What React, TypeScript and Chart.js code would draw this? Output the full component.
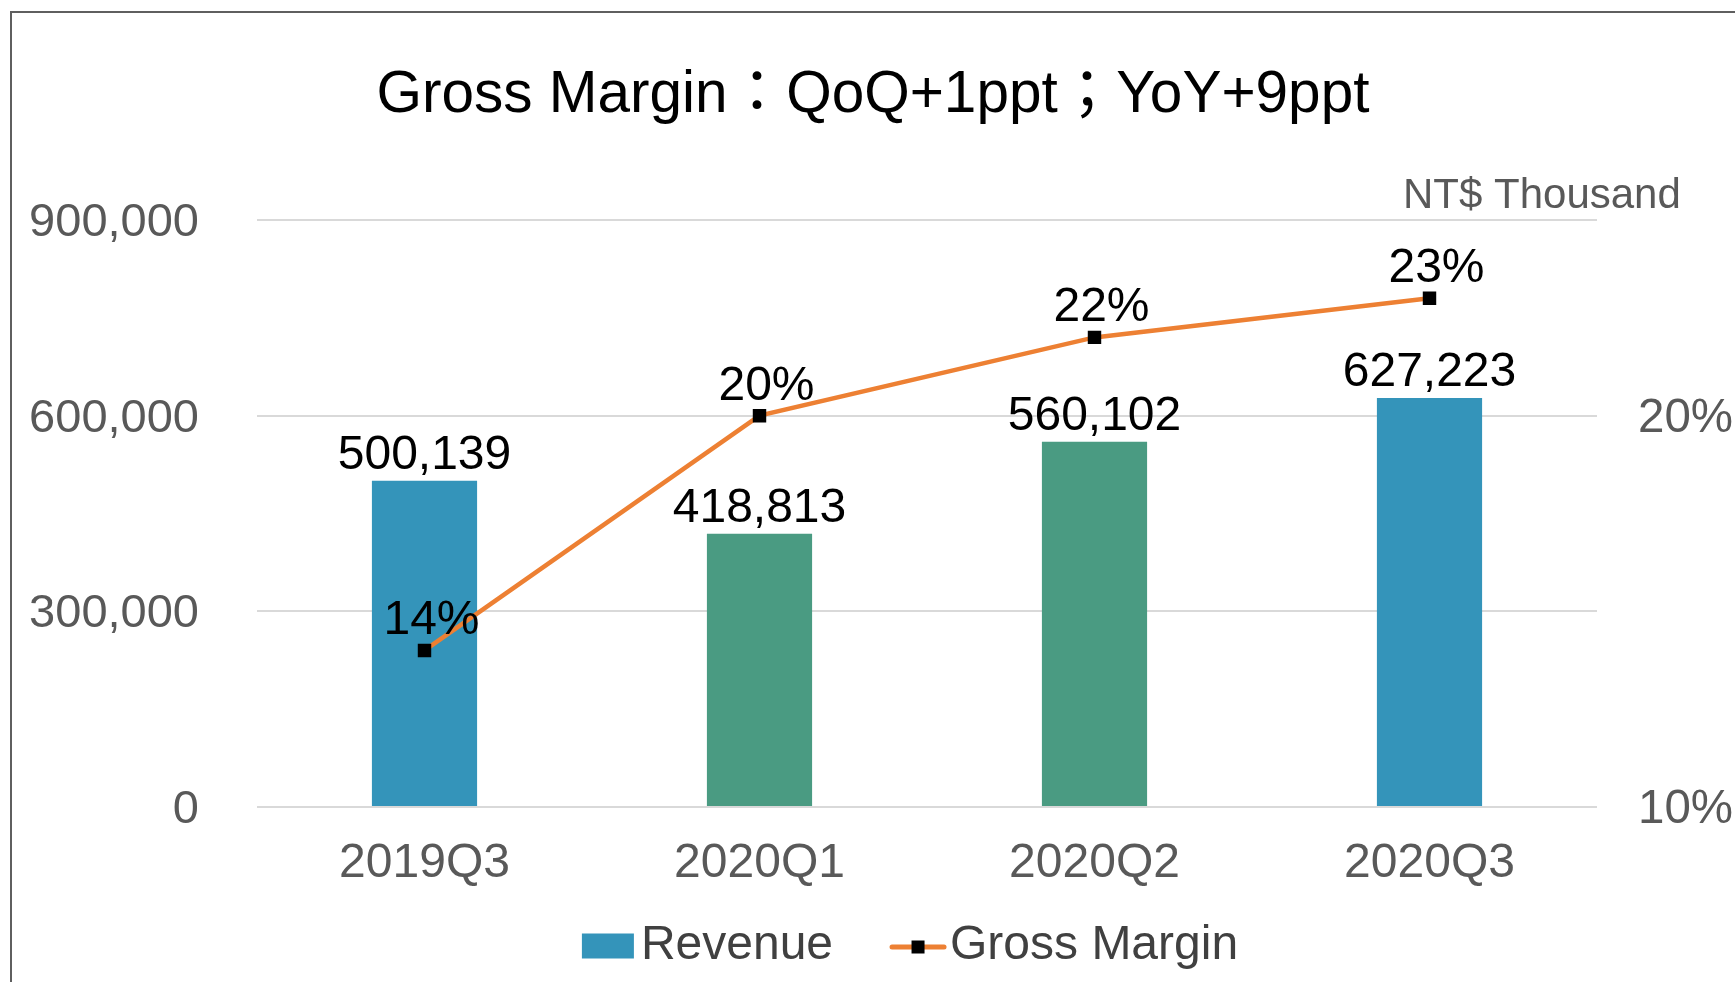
import { useEffect, useRef } from 'react';
import { Chart, registerables } from 'chart.js';

Chart.register(...registerables);

const TITLE = 'Gross Margin：QoQ+1ppt；YoY+9ppt';
const UNIT_LABEL = 'NT$ Thousand';
const categories = ['2019Q3', '2020Q1', '2020Q2', '2020Q3'];
const revenue = [500139, 418813, 560102, 627223];
const grossMargin = [14, 20, 22, 23];
const barColors = ['#3494BA', '#4A9B82', '#4A9B82', '#3494BA'];
const revenueTicks = [0, 300000, 600000, 900000];
const marginTicks = [10, 20];
const seriesNames = ['Revenue', 'Gross Margin'];

const FONT = "'Liberation Sans', Arial, 'Noto Sans CJK TC', sans-serif";
const ORANGE = '#ED8033';
const AXIS_GREY = '#595959';
const LEGEND_GREY = '#404040';

const decorPlugin = {
  id: 'decor',
  beforeDraw(chart: any) {
    const ctx = chart.ctx;
    ctx.save();
    ctx.fillStyle = '#ffffff';
    ctx.fillRect(0, 0, chart.width, chart.height);
    ctx.strokeStyle = '#5f5f5f';
    ctx.lineWidth = 2;
    ctx.strokeRect(11, 12, chart.width + 40, chart.height + 40);
    ctx.restore();
  },
  afterDatasetsDraw(chart: any) {
    const ctx = chart.ctx;
    ctx.save();
    ctx.fillStyle = '#000000';
    ctx.textAlign = 'center';
    ctx.textBaseline = 'alphabetic';
    ctx.font = `48px ${FONT}`;
    // bar value labels
    const barMeta = chart.getDatasetMeta(0);
    barMeta.data.forEach((el: any, i: number) => {
      ctx.fillText(revenue[i].toLocaleString('en-US'), el.x, el.y - 12);
    });
    // line value labels
    const lineMeta = chart.getDatasetMeta(1);
    lineMeta.data.forEach((el: any, i: number) => {
      ctx.fillText(`${grossMargin[i]}%`, el.x + 7, el.y - 16);
    });
    ctx.restore();
  },
  afterDraw(chart: any) {
    const ctx = chart.ctx;
    ctx.save();
    // title
    ctx.fillStyle = '#000000';
    ctx.font = `58.5px ${FONT}`;
    ctx.textAlign = 'center';
    ctx.textBaseline = 'alphabetic';
    ctx.fillText(TITLE, 873, 112);
    // unit label
    ctx.fillStyle = AXIS_GREY;
    ctx.font = `42px ${FONT}`;
    ctx.textAlign = 'left';
    ctx.fillText(UNIT_LABEL, 1403, 208);
    // legend
    ctx.font = `48px ${FONT}`;
    ctx.textBaseline = 'middle';
    const w1 = ctx.measureText(seriesNames[0]).width;
    const w2 = ctx.measureText(seriesNames[1]).width;
    const total = 52 + 7 + w1 + 57 + 56 + 4 + w2;
    let x = 910 - total / 2;
    const cy = 946;
    ctx.fillStyle = barColors[0];
    ctx.fillRect(x, cy - 12.5, 52, 25);
    x += 52 + 7;
    ctx.fillStyle = LEGEND_GREY;
    ctx.fillText(seriesNames[0], x, cy);
    x += w1 + 57;
    ctx.strokeStyle = ORANGE;
    ctx.lineWidth = 5;
    ctx.lineCap = 'round';
    ctx.beginPath();
    ctx.moveTo(x + 2, cy + 1);
    ctx.lineTo(x + 54, cy + 1);
    ctx.stroke();
    ctx.fillStyle = '#000000';
    ctx.fillRect(x + 28 - 6.5, cy + 1 - 6.5, 13, 13);
    x += 56 + 4;
    ctx.fillStyle = LEGEND_GREY;
    ctx.fillText(seriesNames[1], x, cy);
    ctx.restore();
  },
};

export default function App() {
  const canvasRef = useRef<HTMLCanvasElement | null>(null);

  useEffect(() => {
    document.body.style.margin = '0';
    const canvas = canvasRef.current;
    if (!canvas) return;
    Chart.defaults.font.family = FONT;
    const chart = new Chart(canvas, {
      type: 'bar',
      data: {
        labels: categories,
        datasets: [
          {
            type: 'bar',
            label: seriesNames[0],
            data: revenue,
            backgroundColor: barColors,
            borderWidth: 0,
            yAxisID: 'y',
            order: 1,
            categoryPercentage: 1,
            barPercentage: 0.314,
          },
          {
            type: 'line',
            label: seriesNames[1],
            data: grossMargin,
            borderColor: ORANGE,
            borderWidth: 4.5,
            pointStyle: 'rect',
            pointRadius: 9.5,
            pointBackgroundColor: '#000000',
            pointBorderColor: '#000000',
            pointBorderWidth: 0,
            tension: 0,
            yAxisID: 'y1',
            order: 0,
          } as any,
        ],
      },
      options: {
        responsive: false,
        animation: false,
        events: [],
        layout: { padding: { top: 220, left: 0, right: 0, bottom: 0 } },
        plugins: {
          legend: { display: false },
          title: { display: false },
          tooltip: { enabled: false },
        },
        scales: {
          x: {
            grid: { display: false, drawTicks: false },
            border: { display: false },
            ticks: {
              color: AXIS_GREY,
              font: { size: 48, family: FONT },
              padding: 28,
            },
            afterFit(scale: any) {
              scale.height = 175;
            },
          },
          y: {
            position: 'left',
            min: 0,
            max: 900000,
            grid: { color: '#D9D9D9', lineWidth: 2, drawTicks: false },
            border: { display: false },
            ticks: {
              color: AXIS_GREY,
              font: { size: 47, family: FONT },
              padding: 58,
              labelOffset: 3,
              callback: (v: any) => Number(v).toLocaleString('en-US'),
            },
            afterBuildTicks(scale: any) {
              scale.ticks = revenueTicks.map((v) => ({ value: v }));
            },
            afterFit(scale: any) {
              scale.width = 257;
            },
          },
          y1: {
            position: 'right',
            min: 10,
            max: 25,
            grid: { display: false, drawTicks: false },
            border: { display: false },
            ticks: {
              color: AXIS_GREY,
              font: { size: 47.5, family: FONT },
              padding: 41,
              labelOffset: 3,
              callback: (v: any) => `${v}%`,
            },
            afterBuildTicks(scale: any) {
              scale.ticks = marginTicks.map((v) => ({ value: v }));
            },
            afterFit(scale: any) {
              scale.width = 138;
            },
          },
        },
      } as any,
      plugins: [decorPlugin],
    });
    return () => chart.destroy();
  }, []);

  return (
    <div style={{ position: 'absolute', left: 0, top: 0, width: 1735, height: 982 }}>
      <canvas ref={canvasRef} width={1735} height={982} style={{ width: 1735, height: 982, display: 'block' }} />
    </div>
  );
}
